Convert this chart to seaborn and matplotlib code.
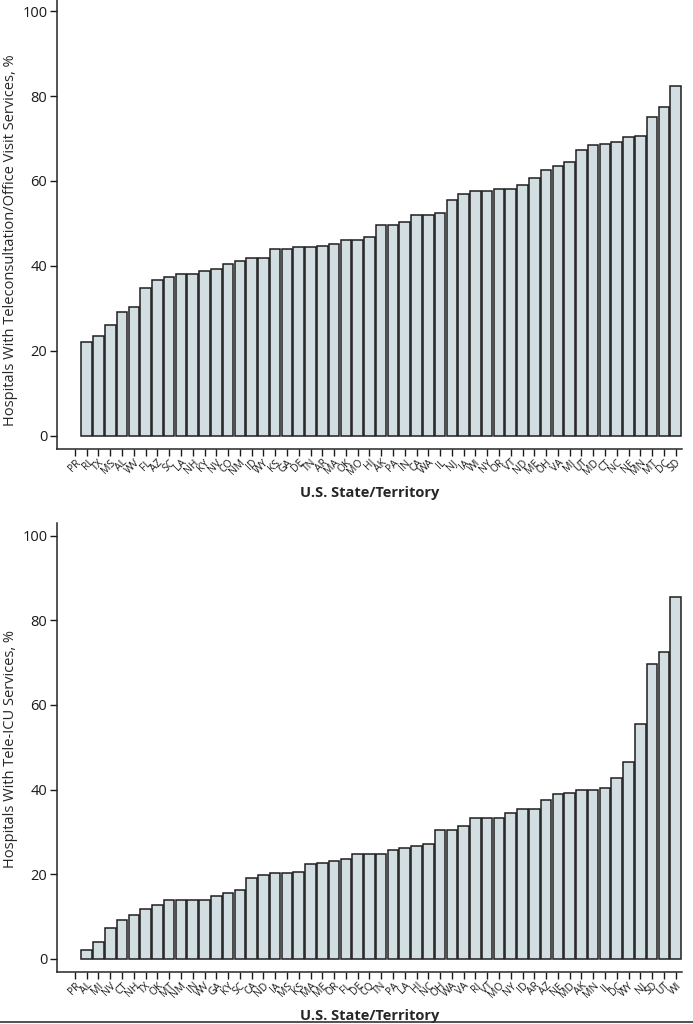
import pandas as pd
import matplotlib.pyplot as plt
import seaborn as sns
from matplotlib.lines import Line2D

# --- dados: % de hospitais por estado/território ---
estados_consulta = ['PR', 'RI', 'TX', 'MS', 'AL', 'WV', 'FL', 'AZ', 'SC', 'LA', 'NH', 'KY', 'NV',
                    'CO', 'NM', 'ID', 'WY', 'KS', 'GA', 'DE', 'TN', 'AR', 'MA', 'OK', 'MO', 'HI',
                    'AK', 'PA', 'IN', 'CA', 'WA', 'IL', 'NJ', 'IA', 'WI', 'NY', 'OR', 'VT', 'ND',
                    'ME', 'OH', 'VA', 'MI', 'UT', 'MD', 'CT', 'NC', 'NE', 'MN', 'MT', 'DC', 'SD']
valores_consulta = [0, 22.0, 23.6, 26.1, 29.1, 30.3, 34.8, 36.8, 37.3, 38.2, 38.2, 38.7, 39.2,
                    40.5, 41.1, 41.9, 41.9, 44.0, 44.0, 44.4, 44.4, 44.8, 45.1, 46.1, 46.2, 46.9,
                    49.6, 49.6, 50.3, 52.1, 52.1, 52.5, 55.5, 57.0, 57.7, 57.7, 58.1, 58.1, 59.0,
                    60.8, 62.5, 63.6, 64.4, 67.2, 68.4, 68.8, 69.2, 70.3, 70.6, 75.1, 77.3, 82.4]

estados_uti = ['PR', 'AL', 'MI', 'NV', 'CT', 'NH', 'TX', 'OK', 'MT', 'NM', 'IN', 'WV', 'GA',
               'KY', 'SC', 'CA', 'ND', 'IA', 'MS', 'KS', 'MA', 'ME', 'OR', 'FL', 'DE', 'CO',
               'TN', 'PA', 'LA', 'HI', 'NC', 'OH', 'WA', 'VA', 'RI', 'VT', 'MO', 'NY', 'ID',
               'AR', 'AZ', 'NE', 'MD', 'AK', 'MN', 'IL', 'DC', 'WY', 'NJ', 'SD', 'UT', 'WI']
valores_uti = [0, 2.1, 4.0, 7.3, 9.1, 10.3, 11.8, 12.7, 14.0, 14.0, 14.0, 14.0, 14.9,
               15.5, 16.3, 19.2, 19.8, 20.2, 20.2, 20.6, 22.3, 22.6, 23.1, 23.6, 24.7, 24.7,
               24.7, 25.7, 26.3, 26.7, 27.2, 30.5, 30.5, 31.3, 33.4, 33.4, 33.4, 34.4, 35.3,
               35.3, 37.6, 39.0, 39.2, 39.8, 39.8, 40.3, 42.8, 46.6, 55.5, 69.7, 72.6, 85.4]

sns.set_style('ticks')
plt.rcParams['font.family'] = ['Open Sans', 'DejaVu Sans']

fig = plt.figure(figsize=(6.93, 10.24), dpi=100)
ax1 = fig.add_axes([0.0823, 0.5615, 0.902, 0.4385])
ax2 = fig.add_axes([0.0823, 0.0508, 0.902, 0.4385])

paineis = [
    (ax1, estados_consulta, valores_consulta, 'Hospitals With Teleconsultation/Office Visit Services, %', 102.6, 0.465),
    (ax2, estados_uti, valores_uti, 'Hospitals With Tele-ICU Services, %', 103.0, 0.497),
]

for ax, estados, valores, rotulo_y, topo, pos_y in paineis:
    df = pd.DataFrame({'estado': estados, 'valor': valores})
    sns.barplot(data=df, x='estado', y='valor', order=estados, color='#d3dee2',
                edgecolor='#1e1e1e', linewidth=1.1, width=0.9, saturation=1, ax=ax)
    # barras com 0% não aparecem no original (sem contorno)
    for barra in ax.patches:
        if barra.get_height() == 0:
            barra.set_visible(False)
    ax.set_ylim(-3.1, topo)
    ax.set_xlim(-1.52, 51.55)
    ax.set_yticks([0, 20, 40, 60, 80, 100])
    sns.despine(ax=ax)
    ax.spines['left'].set_linewidth(1.1)
    ax.spines['bottom'].set_linewidth(1.1)
    ax.tick_params(axis='y', labelsize=10.5, length=5, width=1, colors='#1a1a1a', pad=2)
    ax.tick_params(axis='x', labelsize=7.5, length=5, width=1, colors='#1a1a1a', pad=1)
    for rot in ax.get_xticklabels():
        rot.set_rotation(45)
        rot.set_ha('right')
        rot.set_rotation_mode('anchor')
    ax.set_xlabel('U.S. State/Territory', fontsize=10.5, fontweight='bold', labelpad=6)
    ax.set_ylabel(rotulo_y, fontsize=10.5)
    ax.yaxis.set_label_coords(-0.063, pos_y)

# linha de borda no rodapé
fig.add_artist(Line2D([0, 1], [0.0015, 0.0015], color='#333333', linewidth=1.2))

plt.savefig('out.png', dpi=100)
